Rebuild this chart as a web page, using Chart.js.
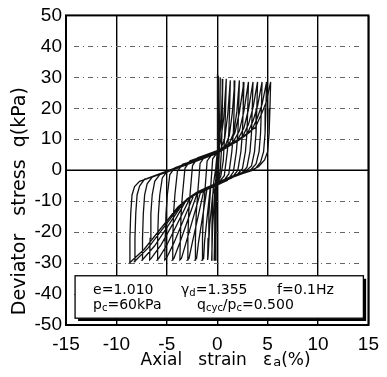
<!DOCTYPE html>
<html>
<head>
<meta charset="utf-8">
<script src="https://cdn.jsdelivr.net/npm/chart.js@4/dist/chart.umd.min.js"></script>
<style>
  html, body { margin: 0; padding: 0; background: #fff; }
  canvas { display: block; }
</style>
</head>
<body>
<canvas id="grafico" width="387" height="377"></canvas>
<script>
// cyclic triaxial test: axial strain (%) vs deviator stress q (kPa), one loop per cycle
const loop0 = [[0,0],[0.02,15],[0.05,31],[0.03,15],[0,0],[-0.05,-4.5],[-0.1,-15],[-0.15,-29]];
const loop1 = [[-0.13,-15],[-0.1,-5],[-0.02,3],[0.05,6],[0.1,15],[0.15,30.5],[0.12,15],[0.08,4],[0,-3.5],[-0.1,-4.6],[-0.2,-12],[-0.3,-29]];
const loop2 = [[-0.27,-16],[-0.22,-7],[-0.12,-2],[0,5.8],[0.15,10],[0.25,18],[0.3,30],[0.27,18],[0.22,7],[0.1,-2],[-0.05,-4.5],[-0.25,-7.5],[-0.45,-18],[-0.55,-29]];
const loop3 = [[-0.52,-18],[-0.46,-9],[-0.35,-4],[-0.15,0.5],[0,5.8],[0.2,9],[0.4,16],[0.55,29.5],[0.5,18],[0.43,7],[0.3,0],[0.1,-3.8],[-0.2,-5.5],[-0.45,-8],[-0.75,-18],[-0.9,-27.5],[-0.95,-29]];
const loop4 = [[-0.91,-22],[-0.83,-14],[-0.7,-8],[-0.45,3.7],[0.05,5.9],[0.35,9.5],[0.65,17],[0.9,29.5],[0.83,20],[0.75,12],[0.6,3],[0.35,-2],[0,-4.4],[-0.68,-5.35],[-1.25,-22.9],[-1.35,-28.5],[-1.5,-29]];
const loop5 = [[-1.46,-22],[-1.38,-14],[-1.25,-8],[-1,3],[-0.5,5.2],[0.3,6.4],[0.75,10.3],[1.05,18.2],[1.3,29],[1.23,20],[1.15,12],[1,6],[0.7,-1.8],[0.1,-4.2],[0,-4.4],[-1,-5.8],[-1.84,-23],[-2.05,-28.5],[-2.2,-29]];
const loop6 = [[-2.16,-22],[-2.08,-14],[-1.95,-8],[-1.7,2.2],[-1.2,4.6],[-1,4.9],[0,6.1],[0.75,7.5],[1.2,11.2],[1.5,18.6],[1.75,29],[1.68,20],[1.6,12],[1.45,6],[1.15,-1.2],[0.55,-3.8],[0,-4.7],[-1,-6.1],[-1.33,-6.6],[-2.46,-23.2],[-2.8,-28.5],[-2.95,-29]];
const loop7 = [[-2.91,-22],[-2.83,-14],[-2.7,-8],[-2.45,1.5],[-1.95,4],[-1,5.1],[0,6.3],[1.2,8.6],[1.65,12.3],[1.95,19],[2.2,29],[2.13,20],[2.05,12],[1.9,6],[1.6,-0.6],[1,-3.3],[0.5,-4],[0,-4.8],[-1,-6.2],[-1.67,-7.3],[-3.09,-23.4],[-3.55,-28.5],[-3.7,-29]];
const loop8 = [[-3.66,-22],[-3.58,-14],[-3.45,-8],[-3.2,0.6],[-2.7,3],[-2,3.8],[-1,5],[0,6.2],[1.15,8.5],[1.75,12],[2.2,18.7],[2.65,28.5],[2.58,20],[2.5,12],[2.35,6],[2.05,0],[1.45,-2.5],[0.5,-3.8],[0,-4.6],[-1,-6],[-2,-7.6],[-3.72,-23.5],[-4.3,-28.5],[-4.45,-29]];
const loop9 = [[-4.41,-22],[-4.33,-14],[-4.2,-8],[-3.95,-0.4],[-3.45,1.9],[-3,2.4],[-2,3.6],[-1,4.8],[0,6],[1,8],[1.6,9.2],[2.2,12.7],[2.65,19.1],[3.1,28.5],[3.03,20],[2.95,12],[2.8,6],[2.5,0.5],[1.9,-1.7],[1.5,-2.2],[0.5,-3.6],[0,-4.4],[-1,-5.8],[-2,-7.4],[-2.34,-8.2],[-4.34,-23.8],[-5.05,-28.5],[-5.2,-29]];
const loop10 = [[-5.16,-22],[-5.08,-14],[-4.95,-8],[-4.7,-1.4],[-4.2,0.8],[-3,2.2],[-2,3.4],[-1,4.6],[0,5.8],[1,7.8],[2.05,9.9],[2.65,13.7],[3.1,19.6],[3.55,28.5],[3.48,20],[3.4,12],[3.25,6],[2.95,1],[2.35,-1.2],[1.5,-2.2],[0.5,-3.6],[0,-4.4],[-1,-5.8],[-2,-7.4],[-2.68,-8.9],[-4.97,-24],[-5.8,-28.5],[-5.95,-29]];
const loop11 = [[-5.91,-22],[-5.83,-14],[-5.7,-8],[-5.45,-2.5],[-4.95,-0.3],[-4,0.8],[-3,2],[-2,3.2],[-1,4.4],[0,5.6],[1,7.6],[2,9.6],[2.5,10.7],[3.1,14.8],[3.55,20.1],[4,28.5],[3.93,20],[3.85,12],[3.7,6],[3.4,1.4],[2.8,-0.4],[2.5,-0.7],[1.5,-1.9],[0.5,-3.3],[0,-4.1],[-1,-5.5],[-2,-7.1],[-3,-9.3],[-5.59,-24.2],[-6.55,-28.5],[-6.7,-29]];
const loop12 = [[-6.66,-22],[-6.58,-14],[-6.45,-8],[-6.2,-3.6],[-5.7,-1.4],[-5,-0.6],[-4,0.6],[-3,1.8],[-2,3],[-1,4.2],[0,5.4],[1,7.4],[2,9.4],[2.95,11.5],[3.55,15.9],[4,20.7],[4.45,28.5],[4.38,20],[4.3,12],[4.15,6],[3.85,2],[3.25,-0.15],[2.5,-0.9],[1.5,-2.1],[0.5,-3.5],[0,-4.3],[-1,-5.7],[-2,-7.3],[-3,-9.5],[-3.35,-10.5],[-6.22,-24.5],[-7.3,-28.5],[-7.45,-29]];
const loop13 = [[-7.41,-22],[-7.33,-14],[-7.2,-8],[-6.95,-4.4],[-6.45,-2.2],[-6,-1.7],[-5,-0.5],[-4,0.7],[-3,1.9],[-2,3.1],[-1,4.3],[0,5.5],[1,7.5],[2,9.5],[3,11.7],[3.4,12.7],[4,17],[4.45,21.3],[4.9,28.5],[4.83,20],[4.75,12],[4.6,6],[4.3,2.6],[3.7,0.2],[3.5,-0.1],[2.5,-1.1],[1.5,-2.3],[0.5,-3.7],[0,-4.5],[-1,-5.9],[-2,-7.5],[-3,-9.7],[-3.69,-11.6],[-6.85,-25.1],[-8.05,-29],[-8.2,-29.5]];
const loop14 = [[-8.16,-22],[-8.08,-14],[-7.95,-8],[-7.7,-5.1],[-7.2,-2.9],[-7,-2.7],[-6,-1.5],[-5,-0.3],[-4,0.9],[-3,2.1],[-2,3.3],[-1,4.5],[0,5.7],[1,7.7],[2,9.7],[3,11.9],[3.8,13.9],[4.4,18.2],[4.85,21.9],[5.3,28.5],[5.23,20],[5.15,12],[5,6],[4.7,3.3],[4.1,1.1],[3.5,0.2],[2.5,-0.8],[1.5,-2],[0.5,-3.4],[0,-4.2],[-1,-5.6],[-2,-7.2],[-3,-9.4],[-3.9,-11.9],[-7.26,-25.6],[-8.55,-29.5],[-8.7,-30]];
const loop15 = [[-8.66,-22],[-8.58,-14],[-8.45,-8],[-8.2,-5.3],[-7.7,-3.6],[-7,-2.8],[-6,-1.6],[-5,-0.4]];

const xTicks = [-15, -10, -5, 0, 5, 10, 15];
const yTicks = [-50, -40, -30, -20, -10, 0, 10, 20, 30, 40, 50];
const dottedLevels = [40, 30, 20, 10, -10, -20, -30, -40];

const xTitle = ["Axial   strain   ε", "a", "(%)"];
const yTitle = "Deviator   stress  q(kPa)";
const noteLine1 = [[["e=1.010"]], [["γ"], ["d", true], ["=1.355"]], [["f=0.1Hz"]]];
const noteLine2 = [[["p"], ["c", true], ["=60kPa"]], [["q"], ["cyc", true], ["/p"], ["c", true], ["=0.500"]]];

function drawRuns(ctx, runs, x, y) {
  runs.forEach(([text, sub]) => {
    ctx.font = sub ? "10px 'DejaVu Sans'" : "14px 'DejaVu Sans'";
    ctx.fillText(text, x, sub ? y + 2 : y);
    x += ctx.measureText(text).width;
  });
}

const plotExtras = {
  id: "plotExtras",
  beforeDatasetsDraw(chart) {
    const { ctx, chartArea: a, scales: { y } } = chart;
    ctx.save();
    ctx.strokeStyle = "#666";
    ctx.lineWidth = 1;
    ctx.setLineDash([5, 4, 1, 4]);
    dottedLevels.forEach(v => {
      const py = Math.round(y.getPixelForValue(v)) + 0.5;
      ctx.beginPath();
      ctx.moveTo(a.left + 8, py);
      ctx.lineTo(a.right - 8, py);
      ctx.stroke();
    });
    ctx.setLineDash([]);
    ctx.strokeStyle = "#000";
    ctx.lineWidth = 1.4;
    const p0 = y.getPixelForValue(0);
    ctx.beginPath();
    ctx.moveTo(a.left, p0);
    ctx.lineTo(a.right, p0);
    ctx.stroke();
    ctx.restore();
  },
  afterDraw(chart) {
    const { ctx, chartArea: a, scales: { x, y } } = chart;
    ctx.save();
    // frame
    ctx.strokeStyle = "#000";
    ctx.lineWidth = 2;
    ctx.strokeRect(a.left, a.top, a.right - a.left, a.bottom - a.top);

    // note box
    const bl = x.getPixelForValue(-14.1), br = x.getPixelForValue(14.5);
    const bt = y.getPixelForValue(-34.1), bb = y.getPixelForValue(-47.8);
    ctx.fillStyle = "#fff";
    ctx.fillRect(bl, bt, br - bl, bb - bt);
    ctx.lineWidth = 1.3;
    ctx.strokeRect(bl, bt, br - bl, bb - bt);
    ctx.lineWidth = 2.5;
    ctx.beginPath();
    ctx.moveTo(bl + 3, bb + 1.5);
    ctx.lineTo(br + 1.5, bb + 1.5);
    ctx.lineTo(br + 1.5, bt + 3);
    ctx.stroke();

    ctx.fillStyle = "#000";
    ctx.textBaseline = "alphabetic";
    ctx.textAlign = "left";
    const cols1 = [bl + 18, bl + 106, bl + 202];
    noteLine1.forEach((runs, i) => drawRuns(ctx, runs, cols1[i], bt + 18));
    const cols2 = [bl + 18, bl + 122];
    noteLine2.forEach((runs, i) => drawRuns(ctx, runs, cols2[i], bt + 33));

    // axis titles
    ctx.font = "17px 'DejaVu Sans'";
    let tx = x.getPixelForValue(-7.6);
    const ty = 365;
    ctx.fillText(xTitle[0], tx, ty);
    tx += ctx.measureText(xTitle[0]).width + 1;
    ctx.font = "13px 'DejaVu Sans'";
    ctx.fillText(xTitle[1], tx, ty + 1);
    tx += ctx.measureText(xTitle[1]).width;
    ctx.font = "17px 'DejaVu Sans'";
    ctx.fillText(xTitle[2], tx, ty);

    ctx.translate(20, y.getPixelForValue(-10));
    ctx.rotate(-Math.PI / 2);
    ctx.textAlign = "center";
    ctx.textBaseline = "middle";
    ctx.font = "19px 'DejaVu Sans'";
    ctx.fillText(yTitle, 0, 0);
    ctx.restore();
  }
};

function criarGrafico() {
  const points = [loop0, loop1, loop2, loop3, loop4, loop5, loop6, loop7,
    loop8, loop9, loop10, loop11, loop12, loop13, loop14, loop15]
    .flat().map(([x, y]) => ({ x, y }));

  new Chart(document.getElementById("grafico"), {
    type: "scatter",
    data: {
      datasets: [{
        data: points,
        showLine: true,
        borderColor: "#111",
        borderWidth: 1.3,
        pointRadius: 0,
        tension: 0,
        fill: false
      }]
    },
    options: {
      responsive: false,
      animation: false,
      devicePixelRatio: 1,
      layout: { padding: { left: 0, right: 12, top: 12, bottom: 0 } },
      plugins: { legend: { display: false }, tooltip: { enabled: false } },
      scales: {
        x: {
          type: "linear",
          min: -15,
          max: 15,
          afterBuildTicks: s => { s.ticks = xTicks.map(v => ({ value: v })); },
          afterFit: s => { s.height = 52; },
          grid: { color: "#000", lineWidth: 1.4, drawTicks: false },
          border: { display: false },
          ticks: { color: "#000", padding: 8, maxRotation: 0,
                   font: { family: "Liberation Sans", size: 19 } }
        },
        y: {
          type: "linear",
          min: -50,
          max: 50,
          afterBuildTicks: s => { s.ticks = yTicks.map(v => ({ value: v })); },
          afterFit: s => { s.width = 66; },
          grid: { display: false, drawTicks: false },
          border: { display: false },
          ticks: { color: "#000", padding: 4,
                   font: { family: "Liberation Sans", size: 19 } }
        }
      }
    },
    plugins: [plotExtras]
  });
}

document.addEventListener("DOMContentLoaded", criarGrafico);
</script>
</body>
</html>
